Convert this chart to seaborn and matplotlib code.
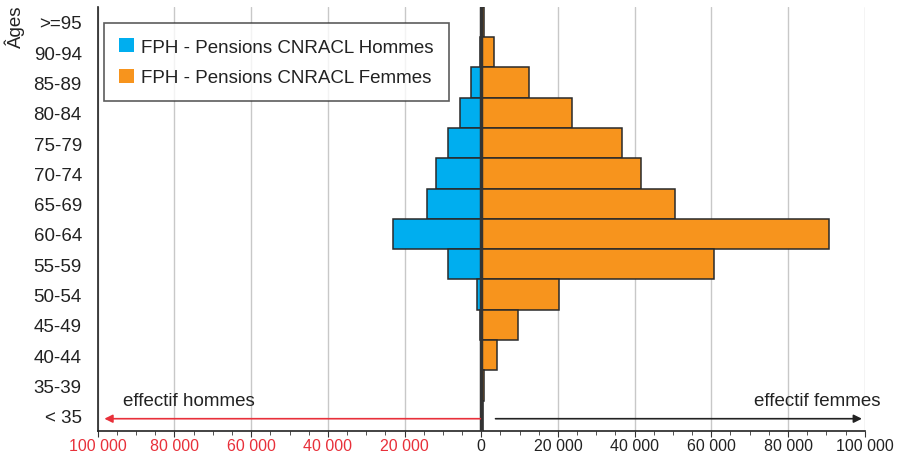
import numpy as np
import pandas as pd
import seaborn as sns
import matplotlib.pyplot as plt
from matplotlib.ticker import MultipleLocator, FuncFormatter

ages = [">=95", "90-94", "85-89", "80-84", "75-79", "70-74", "65-69",
        "60-64", "55-59", "50-54", "45-49", "40-44", "35-39", "< 35"]
hommes = [100, 300, 2600, 5500, 8600, 11700, 14100,
          22900, 8600, 1000, 200, 100, 50, 50]
femmes = [800, 3400, 12500, 23700, 36800, 41700, 50600,
          90700, 60800, 20300, 9600, 4200, 800, 400]

lab_h = "FPH - Pensions CNRACL Hommes"
lab_f = "FPH - Pensions CNRACL Femmes"

df = pd.DataFrame({
    "age": ages * 2,
    "effectif": [-v for v in hommes] + femmes,
    "serie": [lab_h] * len(ages) + [lab_f] * len(ages),
})

sns.set_style("white")
plt.rcParams["font.family"] = ["Liberation Sans", "DejaVu Sans"]

fig = plt.figure(figsize=(8.97, 4.56), dpi=100)
ax = fig.add_axes([0.109, 0.053, 0.855, 0.930])

ax.grid(axis="x", color="#c8c8c8", linewidth=1)
ax.set_axisbelow(True)

sns.barplot(data=df, x="effectif", y="age", hue="serie", order=ages,
            hue_order=[lab_h, lab_f], palette=["#00aeef", "#f7941d"],
            saturation=1, orient="h", dodge=False, width=1.0,
            edgecolor="#2a2a2a", linewidth=1.1, ax=ax, zorder=2)

ax.axvline(0, color="#333333", linewidth=2.5, zorder=4)

ax.set_xlim(-100000, 100000)
ax.set_ylim(13.5, -0.5)
ax.xaxis.set_major_locator(MultipleLocator(20000))
ax.xaxis.set_minor_locator(MultipleLocator(5000))
ax.xaxis.set_major_formatter(FuncFormatter(
    lambda v, p: f"{abs(int(v)):,}".replace(",", " ")))
ax.tick_params(axis="x", which="both", bottom=True, direction="out",
               color="#333333", labelsize=11.5, pad=1.5)
ax.tick_params(axis="x", which="major", length=4)
ax.tick_params(axis="x", which="minor", length=3)
ax.tick_params(axis="y", left=False, labelsize=13.5, pad=8)
for t in ax.get_xticklabels():
    if t.get_position()[0] < 0:
        t.set_color("#e8303a")
    else:
        t.set_color("#222222")
for t in ax.get_yticklabels():
    t.set_color("#222222")

for side in ["top", "right"]:
    ax.spines[side].set_visible(False)
for side in ["left", "bottom"]:
    ax.spines[side].set_color("#222222")
    ax.spines[side].set_linewidth(1.2)

ax.set_xlabel("")
ax.set_ylabel("Âges", fontsize=13.5, rotation=90, color="#222222")
ax.yaxis.set_label_coords(-0.095, 0.955)

# arrows at the bottom
ax.annotate("", xy=(-99000, 13.1), xytext=(500, 13.1),
            arrowprops=dict(arrowstyle="-|>", color="#e8303a", lw=1.2,
                            mutation_scale=12), zorder=5)
ax.annotate("", xy=(100000, 13.1), xytext=(3000, 13.1),
            arrowprops=dict(arrowstyle="-|>", color="#222222", lw=1.2,
                            mutation_scale=12), zorder=5)
ax.text(-93500, 12.5, "effectif hommes", fontsize=13.5, color="#222222",
        ha="left", va="center")
ax.text(104000, 12.5, "effectif femmes", fontsize=13.5, color="#222222",
        ha="right", va="center")

leg = ax.legend(loc="upper left", bbox_to_anchor=(0.008, 0.962),
                borderaxespad=0, fontsize=13.5, frameon=True, fancybox=False,
                edgecolor="#333333", handlelength=0.8, handleheight=0.8,
                handletextpad=0.4, borderpad=0.8, labelspacing=0.7)
leg.get_frame().set_linewidth(1.2)
for h in leg.legend_handles:
    h.set_edgecolor("none")
for t in leg.get_texts():
    t.set_color("#222222")

fig.savefig("out.png", dpi=100)
